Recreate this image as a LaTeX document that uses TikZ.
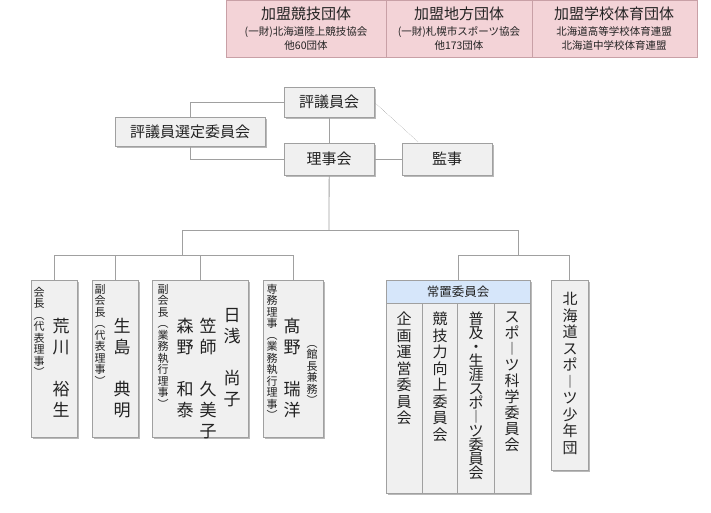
\documentclass[tikz,border=0pt]{standalone}
\usepackage{fontspec}
\setmainfont{Noto Sans CJK JP}
\usetikzlibrary{positioning,shadows}
\definecolor{boxfill}{HTML}{F0F0F0}
\definecolor{boxline}{HTML}{A0A0A0}
\definecolor{pinkfill}{HTML}{F3D3D7}
\definecolor{pinkline}{HTML}{C8A0A6}
\definecolor{bluefill}{HTML}{D6E6FA}
\definecolor{ink}{HTML}{222222}
% vertical writing: one character per line
\def\tateend{\tateend}
\def\tateloop#1{\ifx#1\tateend\else\hbox to1em{\hss#1\hss}\expandafter\tateloop\fi}
\newcommand\tate[2][18pt]{\vtop{\baselineskip=#1\lineskip=0pt\lineskiplimit=-100pt\tateloop#2\tateend}}
\tikzset{
  orgbox/.style={draw=boxline,fill=boxfill,drop shadow={shadow xshift=2pt,shadow yshift=-2pt,fill=gray!55,opacity=1},
    inner sep=0pt,anchor=north west,text=ink},
  link/.style={draw=boxline,line width=0.8pt},
  vt/.style={anchor=north,inner sep=0pt,text=ink},
  small/.style={font=\fontsize{11}{12}\selectfont},
  big/.style={font=\fontsize{17}{18}\selectfont},
  comm/.style={font=\fontsize{15}{16}\selectfont},
  head/.style={font=\fontsize{15}{17}\selectfont},
  sub/.style={font=\fontsize{10.5}{12}\selectfont,text=ink,inner sep=0pt},
}
\begin{document}
\begin{tikzpicture}[x=1pt,y=-1pt]
  \useasboundingbox (0,0) rectangle (711,513);
  % member bodies
  \draw[draw=pinkline,fill=pinkfill] (226,0) rectangle (697,57);
  \draw[pinkline] (386,0) -- (386,57) (532,0) -- (532,57);
  \node[head,text=ink,inner sep=0pt] (kyogi) at (306,14) {加盟競技団体};
  \node[sub] (kyogi1) at (306,32) {(一財)北海道陸上競技協会};
  \node[sub] (kyogi2) at (306,46) {他60団体};
  \node[head,text=ink,inner sep=0pt] (chiho) at (459,14) {加盟地方団体};
  \node[sub] (chiho1) at (459,32) {(一財)札幌市スポーツ協会};
  \node[sub] (chiho2) at (459,46) {他173団体};
  \node[head,text=ink,inner sep=0pt] (gakko) at (614,14) {加盟学校体育団体};
  \node[sub] (gakko1) at (614,32) {北海道高等学校体育連盟};
  \node[sub] (gakko2) at (614,46) {北海道中学校体育連盟};

  % upper boxes
  \node[orgbox,head,minimum width=90pt,minimum height=30pt] (hyogi) at (284,87) {評議員会};
  \node[orgbox,head,minimum width=150pt,minimum height=29pt] (sentei) at (115,117) {評議員選定委員会};
  \node[orgbox,head,minimum width=90pt,minimum height=32pt] (riji) at (284,143) {理事会};
  \node[orgbox,head,minimum width=90pt,minimum height=32pt] (kanji) at (402,143) {監事};

  \draw[link] (hyogi.west) -| (sentei.north);
  \draw[link] (sentei.south) |- (riji.west);
  \draw[link] (hyogi) -- (riji);
  \draw[link] (riji) -- (kanji);
  \draw[boxline,densely dotted,line width=0.5pt] (hyogi.east) -- (418,142);

  % lower boxes
  \node[orgbox,minimum width=46pt,minimum height=157pt] (kaicho) at (31,280) {};
  \node[orgbox,minimum width=46pt,minimum height=157pt] (fuku1) at (92,280) {};
  \node[orgbox,minimum width=96pt,minimum height=157pt] (fuku2) at (152,280) {};
  \node[orgbox,minimum width=60pt,minimum height=157pt] (senmu) at (263,280) {};
  \node[orgbox,minimum width=144pt,minimum height=213pt] (jochi) at (386,280) {};
  \node[orgbox,minimum width=37pt,minimum height=190pt] (shonen) at (551,280) {};

  \coordinate (hub) at (329,230);
  \coordinate (lhub) at (182,230);
  \coordinate (rhub) at (518,230);
  \draw[link] (riji) -- (hub);
  \draw[link] (lhub) -- (rhub);
  \draw[link] (lhub) -- (182,255);
  \draw[link] (rhub) -- (518,255);
  \draw[link] (kaicho.north) |- (senmu.north |- 0,255) -- (senmu.north);
  \draw[link] (fuku1.north) -- (fuku1.north |- 0,255);
  \draw[link] (fuku2.north) -- (fuku2.north |- 0,255);
  \draw[link] (458,280) |- (shonen.north |- 0,255) -- (shonen.north);

  % people
  \node[vt,small] (t1) at (39,287) {\tate[11.5pt]{会長︵代表理事︶}};
  \node[vt,big] (n1) at (61,318) {\tate[21pt]{荒川　裕生}};
  \node[vt,small] (t2) at (100,284) {\tate[11.5pt]{副会長︵代表理事︶}};
  \node[vt,big] (n2) at (122,318) {\tate[21pt]{生島　典明}};
  \node[vt,small] (t3) at (163,284) {\tate[11.5pt]{副会長︵業務執行理事︶}};
  \node[vt,big] (n3a) at (185,318) {\tate[21pt]{森野　和泰}};
  \node[vt,big] (n3b) at (208,318) {\tate[21pt]{笠師　久美子}};
  \node[vt,big] (n3c) at (232,308) {\tate[21pt]{日浅　尚子}};
  \node[vt,small] (t4) at (272,284) {\tate[11.5pt]{専務理事︵業務執行理事︶}};
  \node[vt,big] (n4) at (292,318) {\tate[21pt]{髙野　瑞洋}};
  \node[vt,small] (t4b) at (312,345) {\tate[11.5pt]{︵館長兼務︶}};

  % standing committees
  \draw[boxline,fill=bluefill] (jochi.north west) rectangle (530,303);
  \node[text=ink,font=\fontsize{12.5}{14}\selectfont] (jochihead) at (458,292) {常置委員会};
  \foreach \x in {422,457,494}
    \draw[boxline] (\x,303) -- (\x,493);
  \node[vt,comm] (c1) at (404,312) {\tate[16.5pt]{企画運営委員会}};
  \node[vt,comm] (c2) at (440,312) {\tate[16.5pt]{競技力向上委員会}};
  \node[vt,comm] (c3) at (476,312) {\tate[14pt]{普及・生涯スポ︱ツ委員会}};
  \node[vt,comm] (c4) at (512,312) {\tate[16pt]{スポ︱ツ科学委員会}};
  \node[vt,comm] (c5) at (570,292) {\tate[16.5pt]{北海道スポ︱ツ少年団}};
\end{tikzpicture}
\end{document}
